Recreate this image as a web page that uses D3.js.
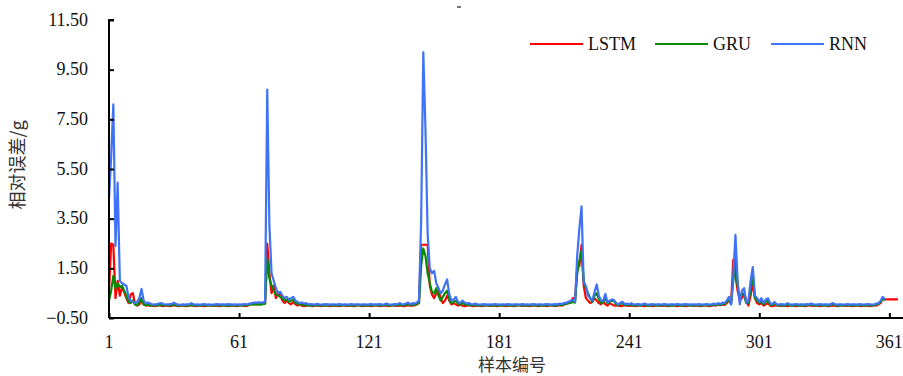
<!DOCTYPE html>
<html>
<head>
<meta charset="utf-8">
<script src="https://cdn.jsdelivr.net/npm/d3@7"></script>
<style>
  body { margin: 0; background: #fff; }
</style>
</head>
<body>
<div id="chart"></div>
<script>
// series values, sample 1..n
const lstm = [
  0.6, 2.5, 2.45, 0.3, 1.0, 0.4, 0.75, 0.55, 0.3, 0.1, 0.45, 0.5, 0.05, 0.0, 0.05, 0.2, 0.05, 0.0, 0.02, 0.0,
  0.0, -0.02, 0.0, 0.02, 0.0, -0.02, 0.0, 0.01, -0.02, 0.0, 0.02, 0.0, -0.02, 0.0, 0.01, 0.0, -0.02, 0.0, 0.02, 0.0,
  -0.02, 0.0, 0.01, 0.0, -0.02, 0.0, 0.02, 0.0, -0.01, 0.0, 0.0, -0.02, 0.0, 0.02, 0.0, -0.02, 0.0, 0.01, 0.0, -0.02,
  0.0, 0.02, 0.0, -0.02, 0.0, 0.05, 0.06, 0.08, 0.05, 0.06, 0.08, 0.07, 0.1, 2.5, 1.3, 0.5, 0.8, 0.3, 0.55, 0.4,
  0.2, 0.1, 0.2, 0.1, 0.05, 0.15, 0.05, 0.0, 0.05, 0.0, -0.02, 0.0, 0.02, 0.0, -0.02, 0.0, 0.01, 0.0, -0.02, 0.0,
  0.02, 0.0, -0.02, 0.0, 0.01, 0.0, -0.02, 0.0, 0.02, 0.0, -0.01, 0.0, 0.0, -0.02, 0.0, 0.02, 0.0, -0.02, 0.0, 0.01,
  0.0, -0.02, 0.0, 0.02, 0.0, -0.02, 0.0, 0.01, 0.0, -0.02, 0.0, 0.02, 0.0, -0.01, 0.0, 0.0, -0.02, 0.0, 0.02, 0.0,
  0.0, 0.02, 0.05, 0.1, 2.45, 2.45, 2.45, 2.45, 0.8, 0.45, 0.3, 0.5, 0.6, 0.3, 0.1, 0.2, 0.4, 0.2, 0.05, 0.1,
  0.05, 0.0, 0.05, 0.0, -0.02, 0.0, 0.02, 0.0, -0.02, 0.0, 0.01, 0.0, -0.02, 0.0, 0.02, 0.0, -0.01, 0.0, 0.0, -0.02,
  0.0, 0.02, 0.0, -0.02, 0.0, 0.01, 0.0, -0.02, 0.0, 0.02, 0.0, -0.01, 0.0, 0.0, -0.02, 0.0, 0.02, 0.0, -0.02, 0.0,
  0.01, 0.0, -0.02, 0.0, 0.02, 0.0, -0.01, 0.0, 0.02, 0.0, 0.05, 0.08, 0.1, 0.12, 0.3, 0.25, 1.5, 1.6, 2.45, 0.8,
  0.3, 0.2, 0.1, 0.15, 0.3, 0.2, 0.1, 0.05, 0.15, 0.05, 0.0, 0.1, 0.05, 0.0, 0.02, 0.0, -0.02, 0.0, 0.02, 0.0,
  -0.01, 0.0, 0.0, -0.02, 0.0, 0.02, 0.0, -0.02, 0.0, 0.01, 0.0, -0.02, 0.0, 0.02, 0.0, -0.01, 0.0, 0.0, -0.02, 0.0,
  0.02, 0.0, -0.02, 0.0, 0.01, 0.0, -0.02, 0.0, 0.02, 0.0, -0.01, 0.0, 0.0, -0.02, 0.0, 0.02, 0.0, -0.02, 0.0, 0.02,
  0.0, 0.05, 0.02, 0.05, 0.03, 0.1, 0.2, 0.1, 1.84, 1.2, 0.6, 0.2, 0.3, 0.5, 0.2, 0.0, 0.4, 0.9, 0.3, 0.1,
  0.05, 0.1, 0.0, 0.05, 0.1, 0.0, -0.02, 0.0, 0.02, 0.0, -0.01, 0.0, 0.0, -0.02, 0.0, 0.02, 0.0, -0.02, 0.0, 0.01,
  0.0, -0.02, 0.0, 0.02, 0.0, -0.01, 0.0, 0.0, -0.02, 0.0, 0.02, 0.0, -0.02, 0.0, 0.01, 0.0, -0.02, 0.0, 0.02, 0.0,
  -0.01, 0.0, 0.0, -0.02, 0.0, 0.02, 0.0, -0.02, 0.0, 0.01, 0.0, -0.02, 0.0, 0.02, 0.0, 0.05, 0.1, 0.3, 0.25, 0.25,
  0.25, 0.25, 0.25, 0.25, 0.25
];

const gru = [
  0.2, 0.6, 1.2, 0.7, 0.9, 0.75, 0.8, 0.6, 0.4, 0.15, 0.1, 0.2, 0.05, 0.02, 0.15, 0.3, 0.05, 0.02, 0.05, 0.0,
  0.01, 0.03, 0.0, 0.02, 0.04, 0.0, 0.02, 0.01, 0.03, 0.0, 0.05, 0.02, 0.0, 0.01, 0.02, 0.0, 0.01, 0.02, 0.03, 0.0,
  0.02, 0.01, 0.0, 0.02, 0.03, 0.0, 0.01, 0.02, 0.0, 0.01, 0.03, 0.0, 0.02, 0.01, 0.0, 0.02, 0.01, 0.0, 0.02, 0.01,
  0.0, 0.02, 0.01, 0.03, 0.02, 0.05, 0.05, 0.04, 0.06, 0.05, 0.04, 0.06, 0.08, 1.9, 1.1, 0.8, 0.6, 0.45, 0.4, 0.35,
  0.3, 0.2, 0.25, 0.15, 0.2, 0.25, 0.1, 0.08, 0.05, 0.06, 0.02, 0.03, 0.01, 0.02, 0.0, 0.01, 0.03, 0.0, 0.02, 0.01,
  0.0, 0.02, 0.01, 0.03, 0.0, 0.02, 0.01, 0.0, 0.02, 0.03, 0.0, 0.01, 0.02, 0.0, 0.01, 0.03, 0.0, 0.02, 0.01, 0.0,
  0.02, 0.01, 0.0, 0.03, 0.02, 0.0, 0.01, 0.02, 0.04, 0.0, 0.02, 0.01, 0.03, 0.0, 0.05, 0.02, 0.01, 0.04, 0.06, 0.02,
  0.05, 0.04, 0.06, 0.1, 1.6, 2.3, 2.0, 1.3, 0.9, 0.55, 0.5, 0.7, 0.4, 0.2, 0.35, 0.5, 0.6, 0.25, 0.1, 0.15,
  0.2, 0.08, 0.05, 0.1, 0.06, 0.03, 0.05, 0.02, 0.01, 0.03, 0.0, 0.02, 0.01, 0.03, 0.0, 0.02, 0.01, 0.0, 0.02, 0.01,
  0.0, 0.02, 0.01, 0.03, 0.0, 0.02, 0.01, 0.0, 0.02, 0.03, 0.0, 0.01, 0.02, 0.0, 0.01, 0.03, 0.0, 0.02, 0.01, 0.0,
  0.02, 0.01, 0.0, 0.03, 0.02, 0.0, 0.01, 0.02, 0.04, 0.03, 0.06, 0.08, 0.1, 0.12, 0.15, 0.12, 1.3, 1.8, 2.2, 1.0,
  0.7, 0.5, 0.3, 0.15, 0.4, 0.5, 0.25, 0.1, 0.15, 0.3, 0.08, 0.15, 0.2, 0.18, 0.05, 0.02, 0.08, 0.1, 0.02, 0.04,
  0.02, 0.05, 0.0, 0.01, 0.03, 0.0, 0.02, 0.04, 0.01, 0.0, 0.02, 0.03, 0.0, 0.01, 0.02, 0.0, 0.03, 0.01, 0.0, 0.02,
  0.01, 0.0, 0.03, 0.02, 0.0, 0.01, 0.03, 0.0, 0.02, 0.01, 0.0, 0.02, 0.03, 0.0, 0.01, 0.02, 0.03, 0.0, 0.02, 0.05,
  0.02, 0.06, 0.03, 0.08, 0.06, 0.15, 0.25, 0.05, 1.0, 2.0, 0.8, 0.3, 0.5, 0.4, 0.1, 0.1, 0.7, 1.2, 0.3, 0.2,
  0.1, 0.2, 0.05, 0.15, 0.2, 0.05, 0.02, 0.1, 0.02, 0.0, 0.03, 0.01, 0.0, 0.05, 0.02, 0.0, 0.01, 0.03, 0.0, 0.02,
  0.01, 0.0, 0.03, 0.02, 0.05, 0.01, 0.0, 0.02, 0.03, 0.0, 0.01, 0.02, 0.0, 0.03, 0.06, 0.02, 0.0, 0.01, 0.02, 0.0,
  0.02, 0.03, 0.0, 0.01, 0.02, 0.0, 0.03, 0.02, 0.0, 0.01, 0.03, 0.02, 0.0, 0.02, 0.05, 0.08, 0.15, 0.3, 0.2
];

const rnn = [
  4.3, 6.0, 8.1, 2.4, 4.95, 1.0, 0.9, 0.85, 0.8, 0.35, 0.2, 0.15, 0.1, 0.15, 0.3, 0.67, 0.2, 0.1, 0.12, 0.08,
  0.05, 0.04, 0.06, 0.08, 0.1, 0.06, 0.04, 0.05, 0.05, 0.07, 0.12, 0.06, 0.04, 0.03, 0.05, 0.04, 0.05, 0.05, 0.1, 0.05,
  0.04, 0.05, 0.03, 0.05, 0.06, 0.04, 0.05, 0.03, 0.04, 0.05, 0.06, 0.04, 0.05, 0.05, 0.04, 0.06, 0.05, 0.04, 0.05, 0.04,
  0.05, 0.04, 0.06, 0.05, 0.06, 0.08, 0.1, 0.12, 0.12, 0.13, 0.12, 0.13, 0.15, 8.7, 3.2, 1.3, 1.0, 0.7, 0.5, 0.55,
  0.4, 0.3, 0.35, 0.25, 0.3, 0.35, 0.2, 0.15, 0.1, 0.12, 0.08, 0.1, 0.05, 0.06, 0.05, 0.04, 0.07, 0.05, 0.04, 0.05,
  0.06, 0.05, 0.04, 0.05, 0.05, 0.04, 0.06, 0.05, 0.04, 0.05, 0.04, 0.05, 0.06, 0.04, 0.05, 0.05, 0.04, 0.05, 0.05, 0.04,
  0.05, 0.06, 0.04, 0.05, 0.05, 0.06, 0.04, 0.05, 0.08, 0.05, 0.04, 0.05, 0.06, 0.05, 0.1, 0.06, 0.04, 0.08, 0.12, 0.05,
  0.1, 0.08, 0.12, 0.2, 3.4, 10.2, 7.1, 2.9, 1.5, 1.3, 1.4, 0.9, 0.7, 0.5, 0.6, 0.85, 1.05, 0.45, 0.2, 0.25,
  0.35, 0.15, 0.1, 0.2, 0.12, 0.08, 0.1, 0.06, 0.05, 0.08, 0.05, 0.04, 0.05, 0.06, 0.04, 0.05, 0.04, 0.05, 0.06, 0.05,
  0.04, 0.05, 0.05, 0.04, 0.06, 0.05, 0.04, 0.05, 0.05, 0.04, 0.05, 0.06, 0.04, 0.05, 0.04, 0.05, 0.06, 0.04, 0.05, 0.05,
  0.04, 0.05, 0.06, 0.05, 0.04, 0.05, 0.06, 0.05, 0.08, 0.06, 0.1, 0.12, 0.15, 0.2, 0.22, 0.15, 2.0, 3.1, 4.0, 0.9,
  0.8, 0.4, 0.3, 0.2, 0.55, 0.85, 0.4, 0.2, 0.2, 0.47, 0.12, 0.2, 0.25, 0.22, 0.1, 0.05, 0.12, 0.15, 0.05, 0.08,
  0.05, 0.1, 0.04, 0.05, 0.06, 0.05, 0.04, 0.08, 0.05, 0.04, 0.05, 0.06, 0.04, 0.05, 0.05, 0.04, 0.06, 0.05, 0.04, 0.05,
  0.05, 0.04, 0.06, 0.05, 0.04, 0.05, 0.06, 0.05, 0.04, 0.05, 0.05, 0.04, 0.06, 0.05, 0.04, 0.05, 0.06, 0.04, 0.05, 0.08,
  0.05, 0.1, 0.06, 0.12, 0.1, 0.2, 0.35, 0.05, 1.2, 2.85, 1.0, 0.05, 0.6, 0.7, 0.1, 0.2, 1.0, 1.55, 0.4, 0.3,
  0.15, 0.3, 0.1, 0.25, 0.3, 0.1, 0.05, 0.15, 0.05, 0.04, 0.06, 0.05, 0.04, 0.1, 0.05, 0.04, 0.05, 0.06, 0.04, 0.05,
  0.05, 0.04, 0.06, 0.05, 0.08, 0.05, 0.04, 0.05, 0.06, 0.04, 0.05, 0.05, 0.04, 0.06, 0.1, 0.05, 0.04, 0.05, 0.05, 0.04,
  0.05, 0.06, 0.04, 0.05, 0.05, 0.04, 0.06, 0.05, 0.04, 0.05, 0.06, 0.05, 0.04, 0.05, 0.08, 0.1, 0.2, 0.35, 0.25
];

const seriesNames = ['LSTM', 'GRU', 'RNN'];
const seriesColors = ['#ff0000', '#078a07', '#3f72f5'];
const xTicks = [1, 61, 121, 181, 241, 301, 361];
const yTicks = [-0.5, 1.5, 3.5, 5.5, 7.5, 9.5, 11.5];

const width = 903, height = 376;

const svg = d3.select('#chart')
  .append('svg')
  .attr('width', width)
  .attr('height', height)
  .style('font-family', '"Liberation Serif", "Times New Roman", serif');

const x = d3.scaleLinear().domain([1, 367.3]).range([109, 903]);
const y = d3.scaleLinear().domain([-0.5, 11.5]).range([318, 20]);

// lines
const line = d3.line()
  .x((d, i) => x(i + 1))
  .y(d => y(d));

const allSeries = [lstm, gru, rnn];
svg.selectAll('.series')
  .data(allSeries)
  .enter()
  .append('path')
  .attr('class', 'series')
  .attr('fill', 'none')
  .attr('stroke', (d, i) => seriesColors[i])
  .attr('stroke-width', 2.2)
  .attr('stroke-linejoin', 'round')
  .attr('d', line);

// axes
const fmt = d3.format('.2f');

const yAxis = svg.append('g')
  .attr('transform', `translate(${x(1)}, 0)`)
  .call(d3.axisRight(y).tickValues(yTicks).tickSize(5).tickFormat(''));
yAxis.select('.domain').attr('stroke-width', 2).attr('d', `M5,${y(11.5)}H0V${y(-0.5)}`);
yAxis.selectAll('.tick line').attr('stroke-width', 2);

svg.append('g')
  .selectAll('text')
  .data(yTicks)
  .enter()
  .append('text')
  .attr('x', 88)
  .attr('y', d => y(d))
  .attr('dy', '0.32em')
  .attr('text-anchor', 'end')
  .attr('fill', '#111')
  .style('font-size', '18px')
  .text(d => fmt(d));

const xAxis = svg.append('g')
  .attr('transform', `translate(0, ${y(-0.5)})`)
  .call(d3.axisTop(x).tickValues(xTicks).tickSize(5).tickFormat(''));
xAxis.select('.domain').attr('stroke-width', 2).attr('d', `M${x(1)},0H${width}`);
xAxis.selectAll('.tick line').attr('stroke-width', 2);

svg.append('g')
  .selectAll('text')
  .data(xTicks)
  .enter()
  .append('text')
  .attr('x', d => x(d))
  .attr('y', 348)
  .attr('text-anchor', 'middle')
  .attr('fill', '#111')
  .style('font-size', '18px')
  .text(d => d);

// axis titles
svg.append('text')
  .attr('x', 512)
  .attr('y', 371)
  .attr('text-anchor', 'middle')
  .attr('fill', '#333')
  .style('font-family', '"Noto Sans CJK SC", sans-serif')
  .style('font-size', '17px')
  .text('样本编号');

svg.append('text')
  .attr('transform', 'translate(24, 165) rotate(-90)')
  .attr('text-anchor', 'middle')
  .attr('fill', '#333')
  .style('font-family', '"Noto Sans CJK SC", sans-serif')
  .style('font-size', '18px')
  .text('相对误差/g');

// legend
const legendX = [530, 655, 771];
const legend = svg.selectAll('.legend')
  .data(seriesNames)
  .enter()
  .append('g')
  .attr('class', 'legend')
  .attr('transform', (d, i) => `translate(${legendX[i]}, 44)`);

legend.append('line')
  .attr('x1', 0)
  .attr('x2', 53)
  .attr('stroke', (d, i) => seriesColors[i])
  .attr('stroke-width', 2.2);

legend.append('text')
  .attr('x', 58)
  .attr('y', 6)
  .attr('fill', '#111')
  .style('font-size', '18px')
  .text(d => d);

// small mark at top
svg.append('rect')
  .attr('x', 457)
  .attr('y', 6)
  .attr('width', 4)
  .attr('height', 2)
  .attr('fill', '#777');
</script>
</body>
</html>
